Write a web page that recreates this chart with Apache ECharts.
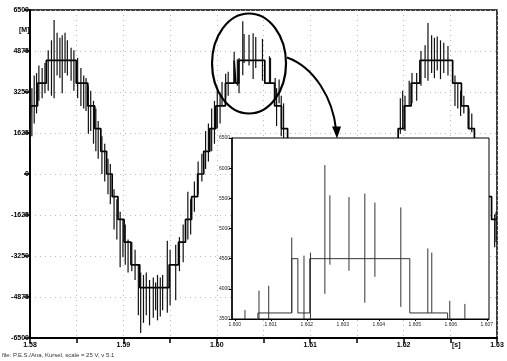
<!DOCTYPE html>
<html>
<head>
<meta charset="utf-8">
<script src="https://cdn.jsdelivr.net/npm/echarts@6/dist/echarts.min.js"></script>
<style>
  html, body { margin: 0; padding: 0; background: #fff; }
  #chart { width: 507px; height: 361px; }
</style>
</head>
<body>
<div id="chart"></div>
<script>
// main axis ranges
const xMin = 1.58, xMax = 1.63, xStep = 0.005;
const yMin = -6500, yMax = 6500, yStep = 1625;

// inset (zoom of the second peak)
const insetXMin = 1.6002, insetXMax = 1.60734;
const insetXLabels = [1.60028, 1.60128, 1.60228, 1.60328, 1.60428, 1.60528, 1.60628, 1.60728];
const insetYMin = 3500, insetYMax = 6500, insetYStep = 500;

// staircase: level at xMin, then switching times and the level after each switch
const startLevel = 1800;
const stepTimes = [
  1.58007, 1.58081, 1.58175,
  1.58495, 1.58619, 1.58693, 1.58758, 1.58820, 1.58880, 1.58942, 1.59007, 1.59081, 1.59175,
  1.59490, 1.59590, 1.59665, 1.59730, 1.59795, 1.59860, 1.59925, 1.59990, 1.60092, 1.60186,
  1.60203, 1.60236,
  1.60514, 1.60619, 1.60693, 1.60758, 1.60820, 1.60880, 1.60942, 1.61007, 1.61081, 1.61175,
  1.61525, 1.61619, 1.61693, 1.61758, 1.61820, 1.61880, 1.61942, 1.62007, 1.62081, 1.62175,
  1.62525, 1.62619, 1.62693, 1.62758, 1.62820, 1.62880, 1.62942
];
const stepLevels = [
  2700, 3600, 4500,
  3600, 2700, 1800, 900, 0, -900, -1800, -2700, -3600, -4500,
  -3600, -2700, -1800, -900, 0, 900, 1800, 2700, 3600, 4500,
  3600, 4500,
  3600, 2700, 1800, 900, 0, -900, -1800, -2700, -3600, -4500,
  -3600, -2700, -1800, -900, 0, 900, 1800, 2700, 3600, 4500,
  3600, 2700, 1800, 900, 0, -900, -1800
];

// switching spikes: [time, low, high]
const spikesStart = [
  [1.58002, 1000, 2900], [1.58020, 1500, 3400], [1.58045, 2000, 3900], [1.58070, 2400, 4000],
  [1.58095, 2900, 4300], [1.58130, 3000, 4200], [1.58160, 3200, 4400]
];
const spikesPeak1 = [
  [1.58195, 3300, 4900], [1.58230, 3100, 5300], [1.58258, 3000, 6100], [1.58290, 3900, 5600],
  [1.58320, 3800, 5400], [1.58345, 3200, 5500], [1.58375, 4000, 5600], [1.58400, 3900, 5300],
  [1.58440, 3700, 5000], [1.58470, 3300, 4900], [1.58510, 3000, 4600],
  [1.58545, 2700, 4200], [1.58575, 2600, 3900], [1.58600, 2500, 3800], [1.58625, 1600, 3500],
  [1.58650, 1700, 3300], [1.58680, 1200, 2900], [1.58705, 900, 2600], [1.58730, 600, 2100],
  [1.58770, 0, 1500], [1.58800, -300, 1200], [1.58835, -800, 600], [1.58860, -1200, 400]
];
const spikesTrough1 = [
  [1.58900, -2200, -600], [1.58930, -2600, -1000], [1.58965, -3700, -1500], [1.58995, -3300, -1800],
  [1.59020, -3600, -2000], [1.59050, -3900, -2600], [1.59090, -3850, -2700], [1.59125, -4200, -3000],
  [1.59160, -5600, -3600], [1.59185, -6300, -3900], [1.59215, -5900, -4000], [1.59245, -5600, -3900],
  [1.59280, -6000, -4200], [1.59320, -5700, -4100], [1.59345, -5400, -4300], [1.59365, -5800, -4000],
  [1.59395, -5650, -4100], [1.59420, -5400, -4000], [1.59470, -5500, -2650], [1.59500, -5200, -3000],
  [1.59560, -5000, -2800], [1.59600, -3850, -2500], [1.59640, -3500, -2000], [1.59690, -2600, -700],
  [1.59720, -2400, -1000], [1.59760, -1500, -300], [1.59800, -800, 500], [1.59840, -300, 800]
];
const spikesPeak2 = [
  [1.59880, 200, 1700], [1.59910, 500, 2000], [1.59945, 900, 2600], [1.59975, 1200, 2900],
  [1.60005, 1800, 3300], [1.60035, 2000, 3100], [1.60056, 2700, 3650], [1.60095, 3000, 3970],
  [1.60122, 3100, 4050], [1.60186, 3600, 4850], [1.60220, 3500, 4550], [1.60238, 3200, 4600],
  [1.60278, 3917, 6050], [1.60292, 4400, 5550], [1.60345, 4300, 5520], [1.60389, 3770, 5580],
  [1.60417, 4200, 5430], [1.60489, 3700, 5350], [1.60564, 3600, 4670], [1.60575, 3600, 4600],
  [1.60625, 3000, 3800], [1.60640, 1900, 3400], [1.60667, 2800, 3750], [1.60690, 1500, 3100],
  [1.60715, 1300, 2800]
];
const spikesPeak3 = [
  [1.61965, 1600, 3000], [1.61990, 1800, 3300], [1.62015, 1700, 3100], [1.62060, 2700, 3700],
  [1.62090, 2800, 4000], [1.62140, 2900, 4000], [1.62186, 3500, 4875], [1.62230, 3800, 5100],
  [1.62261, 3700, 5985], [1.62300, 4000, 5500], [1.62330, 3800, 5400], [1.62360, 4100, 5450],
  [1.62395, 3760, 5300], [1.62430, 4000, 5200], [1.62475, 3900, 5070], [1.62550, 2700, 3900],
  [1.62580, 2600, 3600], [1.62610, 2300, 3300], [1.62645, 2400, 3100], [1.62700, 1780, 2600],
  [1.62730, 1650, 2400]
];
const spikesEnd = [[1.62975, -2900, -1600], [1.62990, -2700, -1500]];

const captionText = 'file: P.E.S./Ana, Kursel, scale = 25 V, v 5.1';
const unitText = '[M]';

// build the staircase points from the switching lists
const linePts = [[xMin, startLevel]];
let prev = startLevel;
stepTimes.forEach((t, i) => {
  linePts.push([t, prev]);
  linePts.push([t, stepLevels[i]]);
  prev = stepLevels[i];
});
linePts.push([xMax, prev]);

const spikes = [].concat(spikesStart, spikesPeak1, spikesTrough1, spikesPeak2, spikesPeak3, spikesEnd);

function spikeRenderer(color, width) {
  return function (params, api) {
    const p1 = api.coord([api.value(0), api.value(1)]);
    const p2 = api.coord([api.value(0), api.value(2)]);
    return {
      type: 'line',
      shape: { x1: p1[0], y1: p1[1], x2: p2[0], y2: p2[1] },
      style: { stroke: color, lineWidth: width }
    };
  };
}

const plain = function (v) { return String(v); };
const labelFont = { fontFamily: 'Liberation Sans', fontWeight: 'bold', fontSize: 7, color: '#000' };
const tinyFont = { fontFamily: 'Liberation Sans', fontSize: 5, color: '#222' };

const chart = echarts.init(document.getElementById('chart'));
chart.setOption({
  animation: false,
  backgroundColor: '#fff',
  grid: [
    { left: 30, right: 10, top: 10, bottom: 23, show: true, backgroundColor: '#fff', borderColor: '#000', borderWidth: 1.5 },
    { left: 232, right: 18, top: 138, bottom: 42, show: true, backgroundColor: '#fff', borderColor: '#000', borderWidth: 1, zlevel: 1 }
  ],
  xAxis: [
    {
      type: 'value', gridIndex: 0, min: xMin, max: xMax, interval: xStep,
      axisLine: { onZero: false, lineStyle: { color: '#000', width: 2 } },
      axisTick: { length: 5, lineStyle: { color: '#000', width: 1.5 } },
      splitLine: { show: true, lineStyle: { color: '#bbb', type: [1, 4], width: 1 } },
      axisLabel: Object.assign({}, labelFont, {
        margin: 4,
        formatter: function (v) {
          const k = Math.round((v - xMin) / xStep);
          if (k === 9) return '{s|[s]}';
          return k % 2 === 0 ? v.toFixed(2) : '';
        },
        rich: { s: Object.assign({}, labelFont, { padding: [0, 0, 0, 12] }) }
      })
    },
    {
      type: 'value', gridIndex: 1, min: insetXMin, max: insetXMax, zlevel: 1,
      axisLine: { onZero: false, lineStyle: { color: '#000', width: 1 } },
      axisTick: { customValues: insetXLabels, length: 2, lineStyle: { color: '#000' } },
      splitLine: { show: false },
      axisLabel: Object.assign({}, tinyFont, {
        customValues: insetXLabels, margin: 3,
        formatter: function (v) { return v.toFixed(3); }
      })
    }
  ],
  yAxis: [
    {
      type: 'value', gridIndex: 0, min: yMin, max: yMax, interval: yStep,
      axisLine: { show: true, onZero: false, lineStyle: { color: '#000', width: 2 } },
      axisTick: { show: true, length: 6, lineStyle: { color: '#000', width: 1.5 } },
      splitLine: { show: true, lineStyle: { color: '#bbb', type: [1, 4], width: 1 } },
      axisLabel: Object.assign({}, labelFont, { margin: 1, formatter: plain })
    },
    {
      type: 'value', gridIndex: 1, min: insetYMin, max: insetYMax, interval: insetYStep, zlevel: 1,
      axisLine: { show: true, onZero: false, lineStyle: { color: '#000', width: 1.5 } },
      axisTick: { show: true, length: 3, lineStyle: { color: '#000' } },
      splitLine: { show: false },
      axisLabel: Object.assign({}, tinyFont, { margin: 2, formatter: plain })
    }
  ],
  series: [
    {
      type: 'line', xAxisIndex: 0, yAxisIndex: 0, data: linePts,
      showSymbol: false, lineStyle: { color: '#000', width: 1.7 }, z: 2
    },
    {
      type: 'custom', xAxisIndex: 0, yAxisIndex: 0, data: spikes, clip: true,
      encode: { x: 0, y: [1, 2] }, renderItem: spikeRenderer('#111', 1.2), z: 3
    },
    {
      type: 'line', xAxisIndex: 1, yAxisIndex: 1, data: linePts, zlevel: 1,
      showSymbol: false, lineStyle: { color: '#333', width: 1 }, z: 2
    },
    {
      type: 'custom', xAxisIndex: 1, yAxisIndex: 1, data: spikes, clip: true, zlevel: 1,
      encode: { x: 0, y: [1, 2] }, renderItem: spikeRenderer('#333', 1), z: 3
    }
  ]
});

// ellipse around the second peak and the arrow to the inset
const c = chart.convertToPixel({ gridIndex: 0 }, [1.60345, 4380]);
const cx = c[0], cy = c[1];
chart.setOption({
  graphic: [
    {
      type: 'ellipse', zlevel: 2,
      shape: { cx: cx, cy: cy, rx: 37, ry: 50 },
      style: { fill: 'none', stroke: '#000', lineWidth: 2.2 }
    },
    {
      type: 'bezierCurve', zlevel: 2,
      shape: { x1: cx + 38, y1: cy - 6, cpx1: cx + 66, cpy1: cy + 4, cpx2: cx + 84, cpy2: cy + 36, x2: cx + 87, y2: cy + 66 },
      style: { fill: 'none', stroke: '#000', lineWidth: 2 }
    },
    {
      type: 'polygon', zlevel: 2,
      shape: { points: [[cx + 88, cy + 75], [cx + 83, cy + 63], [cx + 92, cy + 63]] },
      style: { fill: '#000' }
    },
    {
      type: 'text', left: 19, top: 27, zlevel: 2,
      style: { text: unitText, font: 'bold 7px "Liberation Sans"', fill: '#000' }
    },
    {
      type: 'text', left: 2, top: 352, zlevel: 2,
      style: { text: captionText, font: '6px "Liberation Sans"', fill: '#333' }
    }
  ]
});
</script>
</body>
</html>
